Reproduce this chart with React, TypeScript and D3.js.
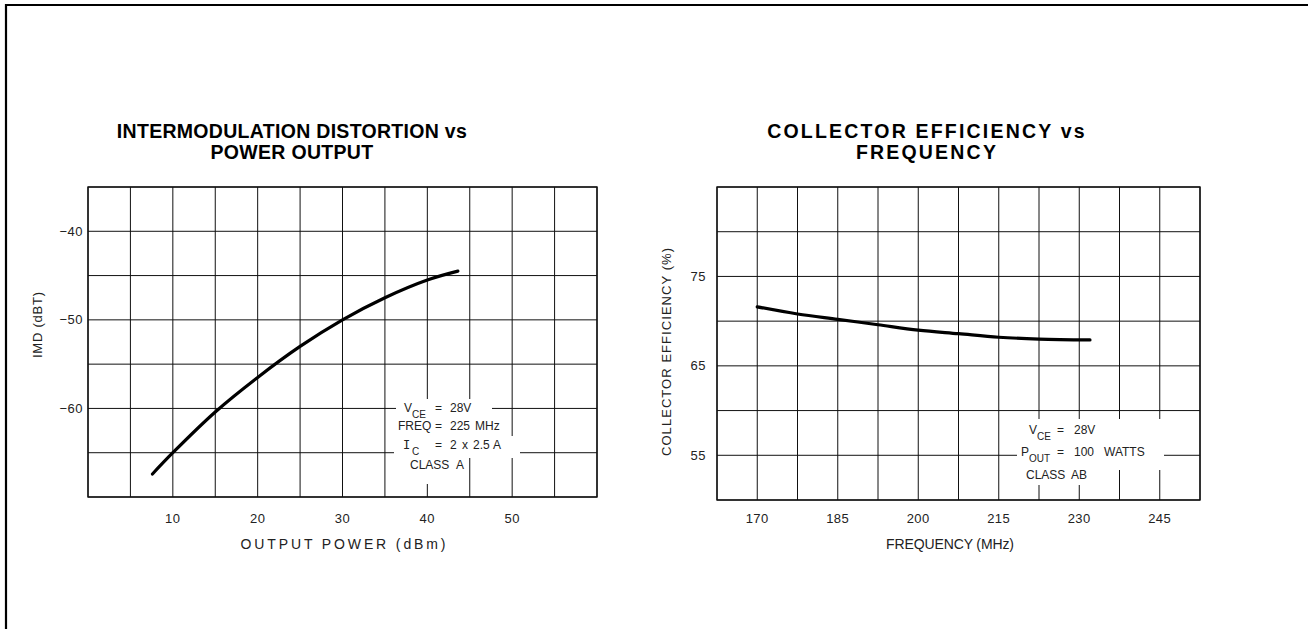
import React from 'react';
import * as d3 from 'd3';

// ---- Data: Intermodulation distortion vs power output ----
const imdPowerDbm = [7.6, 10, 15, 20, 25, 30, 35, 40, 43.6];
const imdDbt = [-67.4, -65, -60.4, -56.5, -53.0, -50.0, -47.5, -45.5, -44.5];
const imdXTicks = [10, 20, 30, 40, 50];
const imdYTicks = [-40, -50, -60];

// ---- Data: Collector efficiency vs frequency ----
const effFreqMhz = [170, 177.5, 185, 192.5, 200, 207.5, 215, 222.5, 232];
const effPercent = [71.6, 70.8, 70.2, 69.6, 69.0, 68.6, 68.2, 68.0, 67.9];
const effXTicks = [170, 185, 200, 215, 230, 245];
const effYTicks = [55, 65, 75];

const FONT = '"Liberation Sans", Arial, Helvetica, sans-serif';
const INK = '#111';

type Piece = { t: string; x: number; y: number; size?: number; mono?: boolean };

const leftNote: Piece[] = [
  { t: 'V', x: 404, y: 412 }, { t: 'CE', x: 412, y: 418, size: 10 }, { t: '=', x: 435, y: 412 }, { t: '28V', x: 450, y: 412 },
  { t: 'FREQ', x: 398, y: 430 }, { t: '=', x: 435, y: 430 }, { t: '225', x: 450, y: 430 }, { t: 'MHz', x: 475, y: 430 },
  { t: 'I', x: 403, y: 449, mono: true }, { t: 'C', x: 412, y: 455, size: 10 }, { t: '=', x: 435, y: 449 }, { t: '2', x: 450, y: 449 },
  { t: 'x', x: 462, y: 449 }, { t: '2.5', x: 473, y: 449 }, { t: 'A', x: 493, y: 449 },
  { t: 'CLASS', x: 410, y: 469 }, { t: 'A', x: 456, y: 469 },
];

const rightNote: Piece[] = [
  { t: 'V', x: 1029, y: 434 }, { t: 'CE', x: 1037, y: 440, size: 10 }, { t: '=', x: 1057, y: 434 }, { t: '28V', x: 1074, y: 434 },
  { t: 'P', x: 1021, y: 456 }, { t: 'OUT', x: 1029, y: 462, size: 10 }, { t: '=', x: 1057, y: 456 }, { t: '100', x: 1074, y: 456 },
  { t: 'WATTS', x: 1104, y: 456 },
  { t: 'CLASS', x: 1026, y: 479 }, { t: 'AB', x: 1071, y: 479 },
];

function Panel(props: {
  xDomain: [number, number]; yDomain: [number, number];
  xRange: [number, number]; yRange: [number, number];
  xGridStep: number; yGridStep: number;
  xTicks: number[]; yTicks: number[]; yTickRight: number; yFmt: (v: number) => string;
  xs: number[]; ys: number[];
  title1: string; title2: string; titleCx: number; titleSpacing: number;
  xLabel: string; xLabelCx: number; xLabelLen: number;
  yLabel: string; yLabelCx: number; yLabelCy: number; yLabelLen: number;
  masks: [number, number, number, number][];
  note: Piece[];
}) {
  const x = d3.scaleLinear().domain(props.xDomain).range(props.xRange);
  const y = d3.scaleLinear().domain(props.yDomain).range(props.yRange);
  const xg = d3.range(props.xDomain[0], props.xDomain[1] + 1e-6, props.xGridStep);
  const yg = d3.range(props.yDomain[0], props.yDomain[1] + 1e-6, props.yGridStep);
  const pts = props.xs.map((v, i) => [v, props.ys[i]] as [number, number]);
  const line = d3.line<[number, number]>().x(d => x(d[0])).y(d => y(d[1])).curve(d3.curveCatmullRom.alpha(0.5));
  const [x0, x1] = props.xRange;
  const [yb, yt] = props.yRange;
  return (
    <g>
      <text x={props.titleCx} y={138} textAnchor="middle" fontFamily={FONT} fontWeight="bold" fontSize={19.5}
        letterSpacing={props.titleSpacing} fill="#000">{props.title1}</text>
      <text x={props.titleCx} y={159} textAnchor="middle" fontFamily={FONT} fontWeight="bold" fontSize={19.5}
        letterSpacing={props.titleSpacing} fill="#000">{props.title2}</text>
      {xg.map((v, i) => (
        <line key={'vx' + i} x1={x(v)} x2={x(v)} y1={yt} y2={yb} stroke={INK} strokeWidth={1} />
      ))}
      {yg.map((v, i) => (
        <line key={'hy' + i} x1={x0} x2={x1} y1={y(v)} y2={y(v)} stroke={INK} strokeWidth={1} />
      ))}
      <rect x={x0} y={yt} width={x1 - x0} height={yb - yt} fill="none" stroke={INK} strokeWidth={1.4} />
      {props.masks.map((m, i) => (
        <rect key={'m' + i} x={m[0]} y={m[1]} width={m[2]} height={m[3]} fill="#fff" />
      ))}
      <path d={line(pts) || ''} fill="none" stroke="#000" strokeWidth={3.2} strokeLinecap="round" />
      {props.xTicks.map((v, i) => (
        <text key={'xt' + i} x={x(v)} y={523} textAnchor="middle" fontFamily={FONT} fontSize={13}
          letterSpacing={0.5} fill="#222">{String(v)}</text>
      ))}
      {props.yTicks.map((v, i) => (
        <text key={'yt' + i} x={props.yTickRight} y={y(v)} dy="0.35em" textAnchor="end" fontFamily={FONT}
          fontSize={13} letterSpacing={0.5} fill="#222">{props.yFmt(v)}</text>
      ))}
      <text x={props.xLabelCx} y={549} textAnchor="middle" fontFamily={FONT} fontSize={14}
        textLength={props.xLabelLen} lengthAdjust="spacing" fill="#222">{props.xLabel}</text>
      <text transform={`translate(${props.yLabelCx},${props.yLabelCy}) rotate(-90)`} textAnchor="middle"
        dy="0.35em" fontFamily={FONT} fontSize={13} textLength={props.yLabelLen} lengthAdjust="spacing"
        fill="#222">{props.yLabel}</text>
      {props.note.map((p, i) => (
        <text key={'n' + i} x={p.x} y={p.y} fontFamily={p.mono ? '"DejaVu Sans Mono", monospace' : FONT}
          fontSize={p.size || 12} fill="#222">{p.t}</text>
      ))}
    </g>
  );
}

export default function App() {
  return (
    <svg width={1308} height={629} style={{ position: 'absolute', left: 0, top: 0, background: '#fff' }}>
      <rect x={0} y={0} width={1308} height={629} fill="#fff" />
      <line x1={5} x2={1308} y1={5} y2={5} stroke="#000" strokeWidth={2.2} />
      <line x1={6} x2={6} y1={4} y2={629} stroke="#000" strokeWidth={2.2} />
      <Panel
        xDomain={[0, 60]} yDomain={[-70, -35]} xRange={[88, 597]} yRange={[497, 187]}
        xGridStep={5} yGridStep={5} xTicks={imdXTicks} yTicks={imdYTicks} yTickRight={83}
        yFmt={v => (v < 0 ? '\u2212' + Math.abs(v) : String(v))}
        xs={imdPowerDbm} ys={imdDbt}
        title1="INTERMODULATION DISTORTION vs" title2="POWER OUTPUT" titleCx={292} titleSpacing={0.3}
        xLabel="OUTPUT POWER (dBm)" xLabelCx={343} xLabelLen={205}
        yLabel="IMD (dBT)" yLabelCx={37} yLabelCy={325} yLabelLen={66}
        masks={[[396, 399, 96, 21], [394, 418, 112, 18], [394, 436, 126, 22], [400, 458, 68, 26]]}
        note={leftNote}
      />
      <Panel
        xDomain={[162.5, 252.5]} yDomain={[50, 85]} xRange={[717, 1200]} yRange={[500, 187]}
        xGridStep={7.5} yGridStep={5} xTicks={effXTicks} yTicks={effYTicks} yTickRight={706}
        yFmt={v => String(v)}
        xs={effFreqMhz} ys={effPercent}
        title1="COLLECTOR EFFICIENCY vs" title2="FREQUENCY" titleCx={927} titleSpacing={2.2}
        xLabel="FREQUENCY (MHz)" xLabelCx={950} xLabelLen={128}
        yLabel="COLLECTOR EFFICIENCY (%)" yLabelCx={666} yLabelCy={352} yLabelLen={208}
        masks={[[1017, 419, 147, 51], [1019, 470, 74, 15]]}
        note={rightNote}
      />
    </svg>
  );
}
